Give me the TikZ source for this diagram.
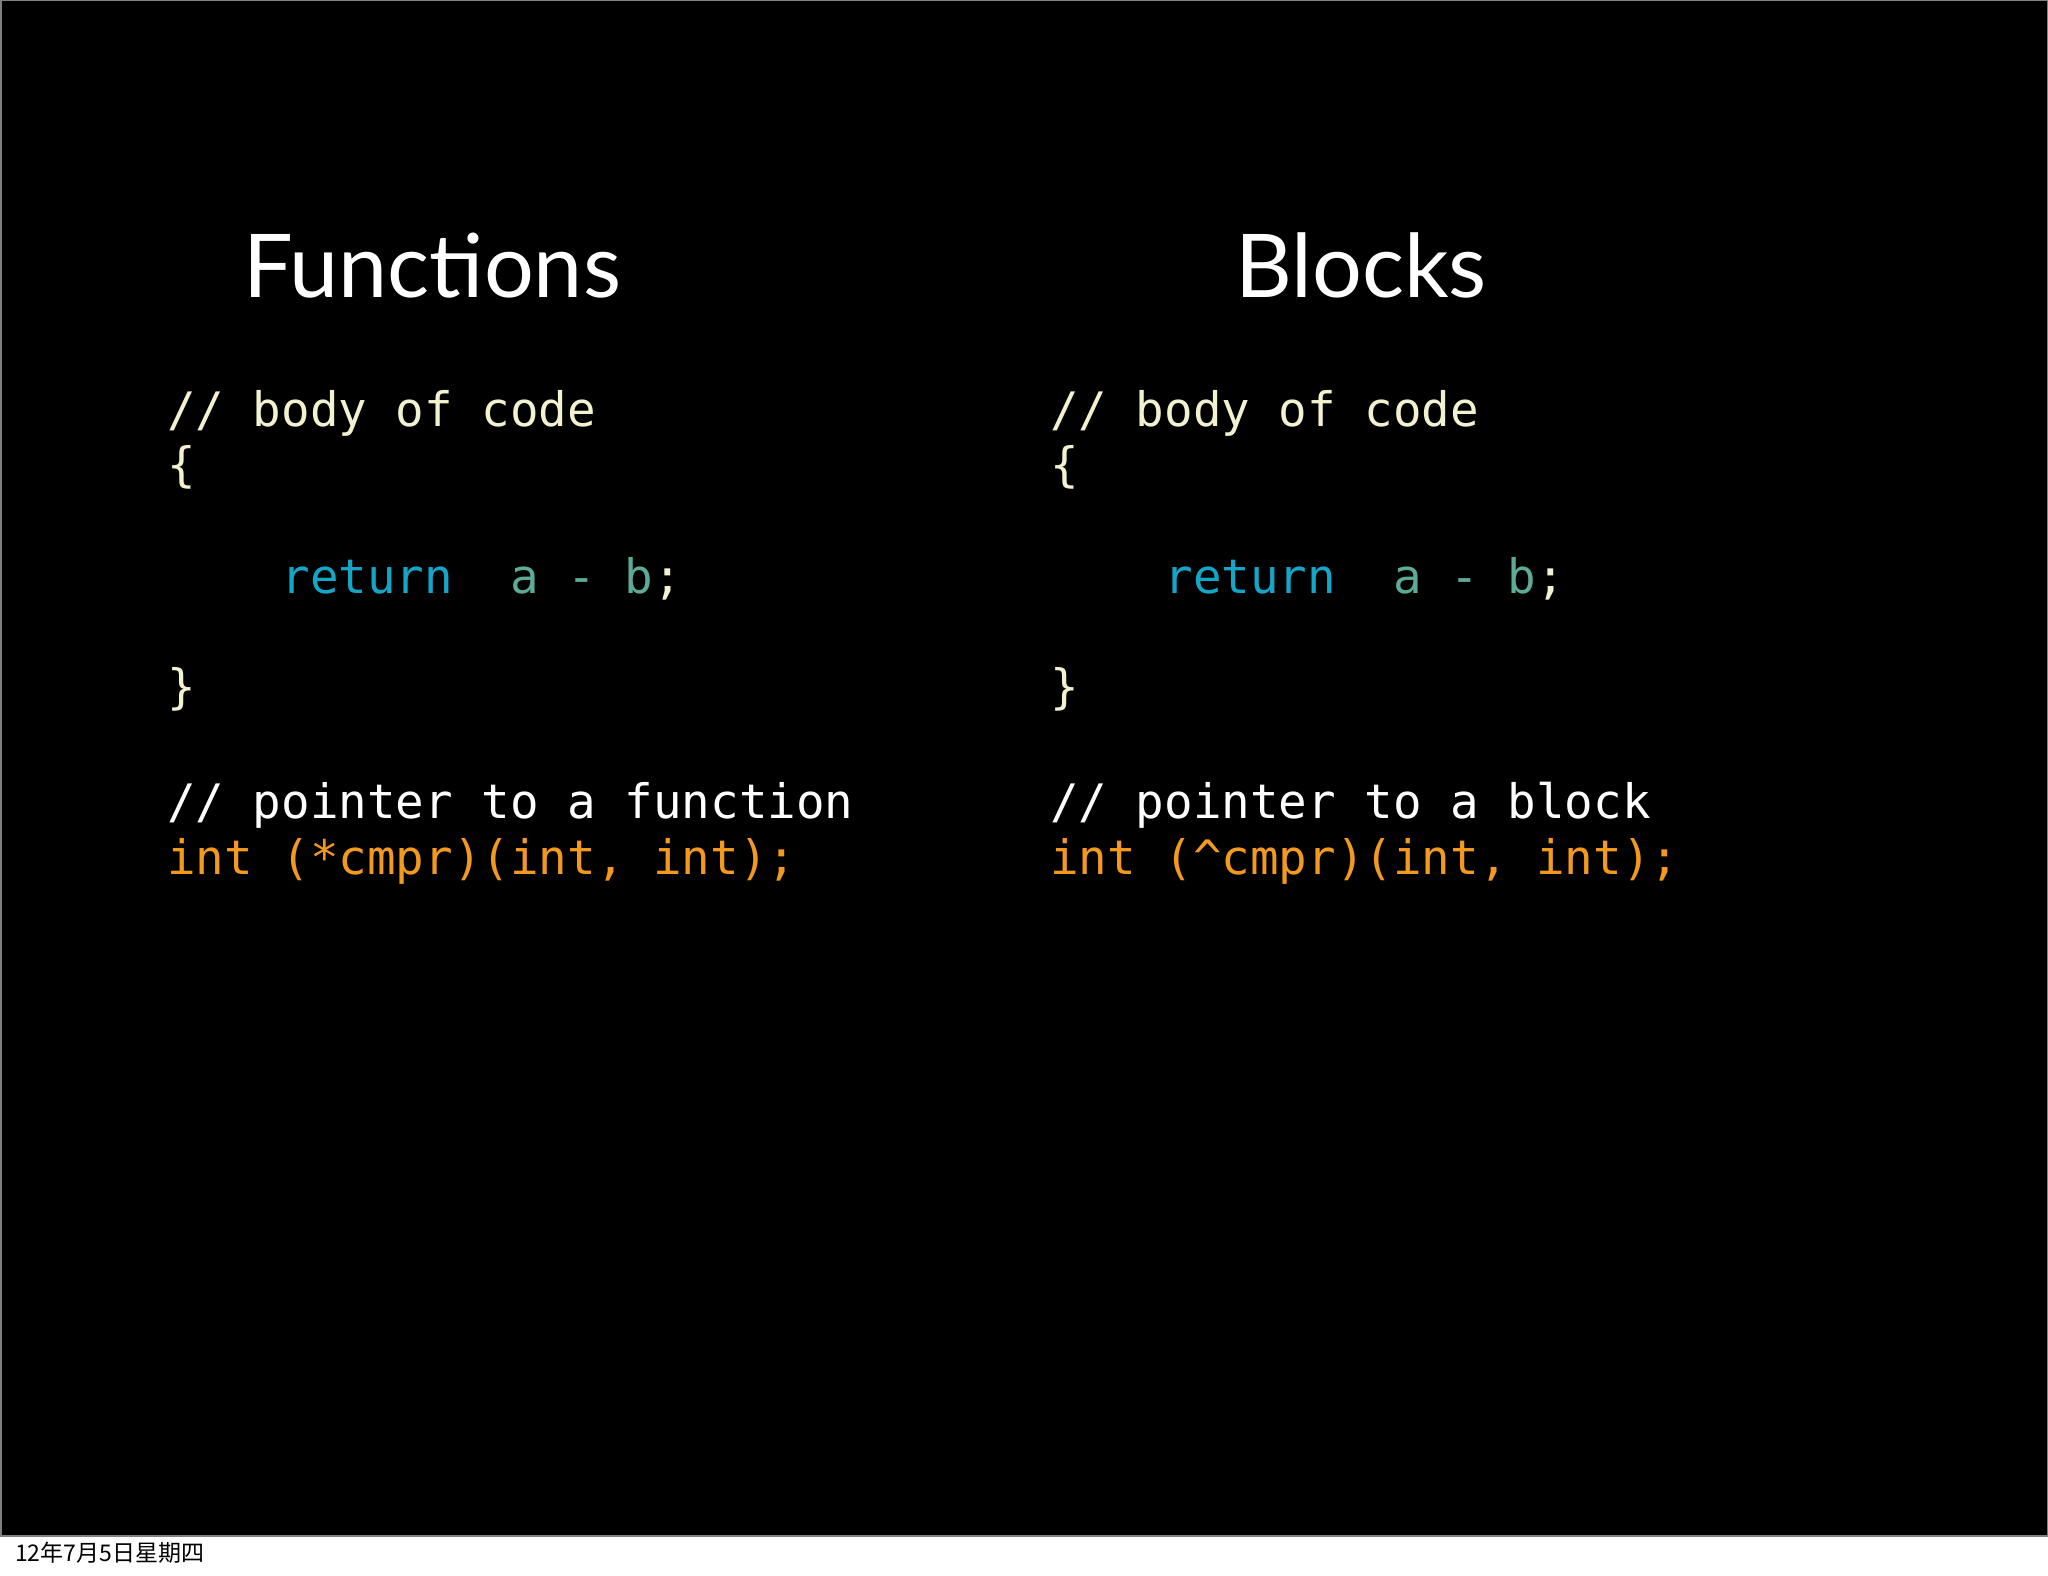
\documentclass[tikz,border=0pt]{standalone}
\usepackage{fontspec}
\setmainfont{Lato}
\newfontfamily\codefont{DejaVu Sans Mono}
\newfontfamily\cjkfont{Noto Sans CJK SC}
\definecolor{cream}{HTML}{F2F2D0}
\definecolor{kw}{HTML}{14A6C8}
\definecolor{var}{HTML}{5DAA96}
\definecolor{org}{HTML}{F39A1E}
\begin{document}
\begin{tikzpicture}[x=1pt,y=-1pt,
  title/.style={text=white,font=\fontsize{88}{100}\selectfont,anchor=base,inner sep=0},
  code/.style={font=\codefont\fontsize{47.5}{56}\selectfont,anchor=base west,inner sep=0}]
\useasboundingbox (0,0) rectangle (2048,1576);
\fill[white] (0,0) rectangle (2048,1576);
\fill[black] (0,0) rectangle (2048,1536);
\draw[gray,line width=1.5] (0.75,0.75) rectangle (2047.25,1536);
\node[title] (t1) at (432,297) {Functions};
\node[title] (t2) at (1361,297) {Blocks};
\foreach \x/\n/\p/\w in {167/L/*/function,1050/R/\textasciicircum/block}{
  \node[code,text=cream] (\n1) at (\x,426) {// body of code};
  \node[code,text=cream] (\n2) at (\x,481) {\{};
  \node[code] (\n3) at (\x,593) {\phantom{0000}\textcolor{kw}{return}\phantom{00}\textcolor{var}{a - b}\textcolor{cream}{;}};
  \node[code,text=cream] (\n4) at (\x,703) {\}};
  \node[code,text=white] (\n5) at (\x,818) {// pointer to a \w};
  \node[code,text=org] (\n6) at (\x,874) {int (\p cmpr)(int, int);};
}
\node[anchor=base west,inner sep=0,font=\cjkfont\fontsize{23}{26}\selectfont] (date) at (15,1561) {12年7月5日星期四};
\end{tikzpicture}
\end{document}
